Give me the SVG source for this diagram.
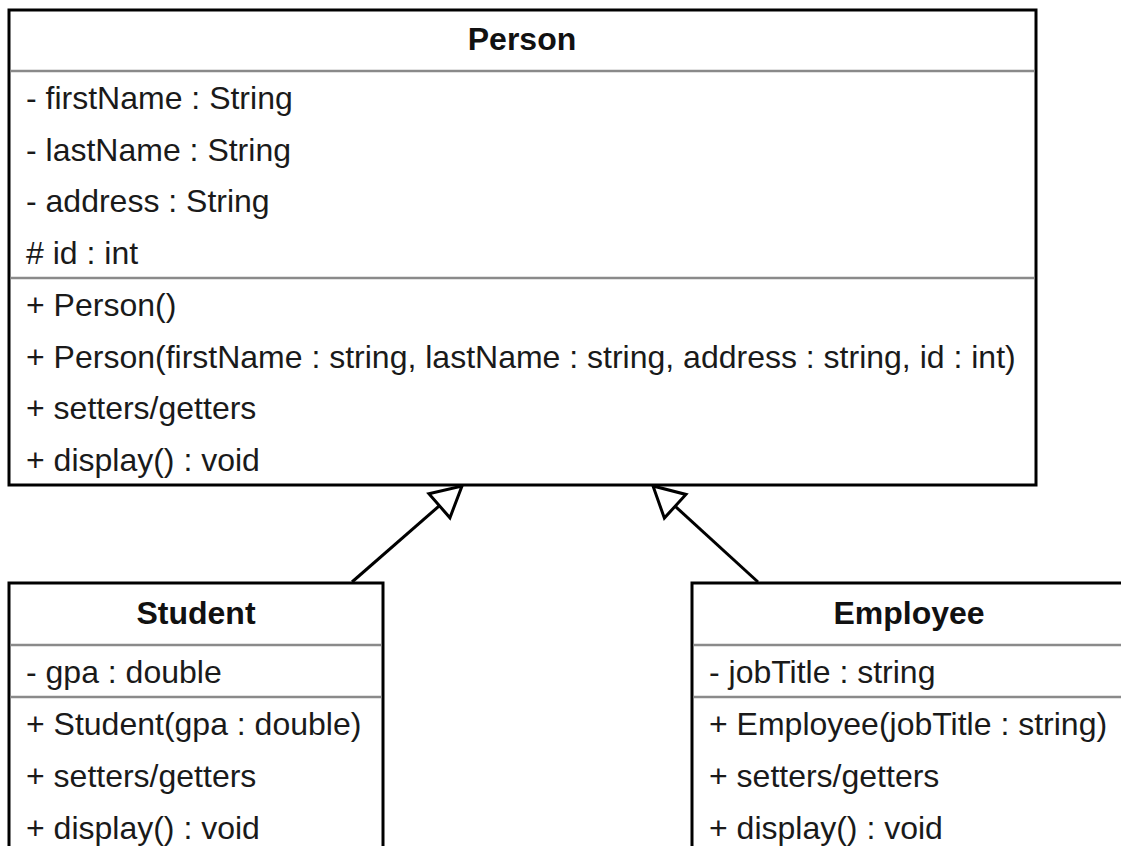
<svg xmlns="http://www.w3.org/2000/svg" width="1121" height="846" viewBox="0 0 1121 846">
  <style>
    .box { fill: #ffffff; stroke: #000000; stroke-width: 3; }
    .div { stroke: #8a8a8a; stroke-width: 2.5; }
    .title { font-family: "Liberation Sans", Arial, Helvetica, sans-serif; font-size: 32px; font-weight: bold; fill: #111111; text-anchor: middle; }
    .row { font-family: "Liberation Sans", Arial, Helvetica, sans-serif; font-size: 32px; fill: #1a1a1a; }
    .edge { fill: none; stroke: #000000; stroke-width: 3; }
  </style>
  <defs>
    <marker id="inherit" markerUnits="userSpaceOnUse" markerWidth="40" markerHeight="40" refX="30" refY="16" orient="auto" overflow="visible">
      <path d="M0,0 L30,16 L0,32 Z" fill="#ffffff" stroke="#000000" stroke-width="3" stroke-linejoin="miter"/>
    </marker>
  </defs>
  <rect width="1121" height="846" fill="#ffffff"/>

  <g id="connectors">
    <line class="edge" x1="352" y1="582" x2="462" y2="486" marker-end="url(#inherit)"/>
    <line class="edge" x1="758" y1="582" x2="653" y2="486" marker-end="url(#inherit)"/>
  </g>

  <g id="person">
    <rect class="box" x="9" y="10" width="1027" height="475"/>
    <line class="div" x1="10.5" y1="71" x2="1034.5" y2="71"/>
    <line class="div" x1="10.5" y1="278" x2="1034.5" y2="278"/>
    <text class="title" x="522" y="50">Person</text>
    <text class="row" x="26" y="109">- firstName : String</text>
    <text class="row" x="26" y="161">- lastName : String</text>
    <text class="row" x="26" y="212">- address : String</text>
    <text class="row" x="26" y="264"># id : int</text>
    <text class="row" x="26" y="316">+ Person()</text>
    <text class="row" x="26" y="368">+ Person(firstName : string, lastName : string, address : string, id : int)</text>
    <text class="row" x="26" y="419">+ setters/getters</text>
    <text class="row" x="26" y="471">+ display() : void</text>
  </g>

  <g id="student">
    <rect class="box" x="9" y="583" width="374" height="300"/>
    <line class="div" x1="10.5" y1="645" x2="381.5" y2="645"/>
    <line class="div" x1="10.5" y1="697" x2="381.5" y2="697"/>
    <text class="title" x="196" y="624">Student</text>
    <text class="row" x="26" y="683">- gpa : double</text>
    <text class="row" x="26" y="735">+ Student(gpa : double)</text>
    <text class="row" x="26" y="787">+ setters/getters</text>
    <text class="row" x="26" y="839">+ display() : void</text>
  </g>

  <g id="employee">
    <rect class="box" x="692" y="583" width="434" height="300"/>
    <line class="div" x1="693.5" y1="645" x2="1126" y2="645"/>
    <line class="div" x1="693.5" y1="697" x2="1126" y2="697"/>
    <text class="title" x="909" y="624">Employee</text>
    <text class="row" x="709" y="683">- jobTitle : string</text>
    <text class="row" x="709" y="735">+ Employee(jobTitle : string)</text>
    <text class="row" x="709" y="787">+ setters/getters</text>
    <text class="row" x="709" y="839">+ display() : void</text>
  </g>
</svg>
